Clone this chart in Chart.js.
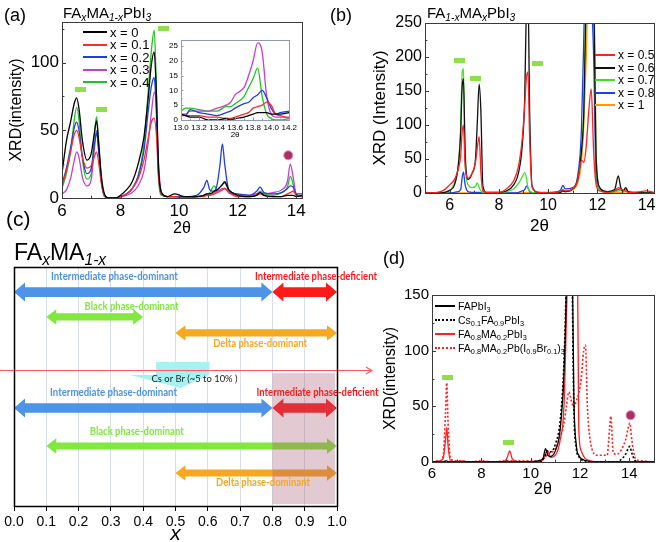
<!DOCTYPE html>
<html>
<head>
<meta charset="utf-8">
<script src="https://cdn.jsdelivr.net/npm/chart.js@4.4.1/dist/chart.umd.min.js"></script>
<style>
body { margin: 0; background: #fff; }
#fig { position: relative; width: 661px; height: 542px; overflow: hidden; font-family: "Liberation Sans", Arial, sans-serif; color: #000; background: #fff; }
#fig canvas { position: absolute; }
.lbl { position: absolute; line-height: 1; white-space: nowrap; }
.lbl sub { font-style: italic; font-size: 0.68em; vertical-align: -0.3em; line-height: 0; }
.leg { position: absolute; line-height: 1; }
.leg .row { display: flex; align-items: center; white-space: nowrap; }
.leg .ln { display: inline-block; margin-right: 3px; border-top-width: 2px; }
.leg sub { font-size: 0.7em; vertical-align: -0.3em; line-height: 0; }
</style>
</head>
<body>
<div id="fig">
  <canvas id="cA" width="330" height="240" style="left:0;top:0"></canvas>
  <canvas id="cIn" width="134" height="108" style="left:166px;top:32px"></canvas>
  <canvas id="cB" width="331" height="240" style="left:330px;top:0"></canvas>
  <canvas id="cC" width="400" height="310" style="left:0;top:240px"></canvas>
  <canvas id="cD" width="321" height="245" style="left:340px;top:260px"></canvas>

  <div class="lbl" style="left:4px;top:6px;font-size:18px">(a)</div>
  <div class="lbl" style="left:63px;top:5px;font-size:15px">FA<sub>x</sub>MA<sub>1-x</sub>PbI<sub>3</sub></div>
  <div class="lbl" style="left:330px;top:6px;font-size:18px">(b)</div>
  <div class="lbl" style="left:427px;top:5px;font-size:15px">FA<sub>1-x</sub>MA<sub>x</sub>PbI<sub>3</sub></div>
  <div class="lbl" style="left:6px;top:208px;font-size:21px">(c)</div>
  <div class="lbl" style="left:14px;top:241px;font-size:23px">FA<sub>x</sub>MA<sub>1-x</sub></div>
  <div class="lbl" style="left:383px;top:249px;font-size:18px">(d)</div>

  <div class="leg" id="legA" style="left:83px;top:26px;font-size:13px"></div>
  <div class="leg" id="legB" style="left:595px;top:49px;font-size:12px"></div>
  <div class="leg" id="legD" style="left:435px;top:299px;font-size:10.5px"></div>
</div>
<script>
// ---------- (a) FAxMA1-xPbI3, x = 0 ... 0.4 ----------
const thetaA = [6.0, 6.15, 6.3, 6.42, 6.5, 6.58, 6.7, 6.85, 7.0, 7.1, 7.18, 7.26, 7.35, 7.45, 7.6, 7.85, 8.0, 8.2, 8.4, 8.6,
    8.8, 8.95, 9.05, 9.15, 9.22, 9.3, 9.4, 9.6, 9.85, 10.2, 10.6, 10.85, 10.95, 11.05, 11.2, 11.3, 11.4, 11.48, 11.56, 11.7,
    12.0, 12.4, 12.65, 12.77, 12.9, 13.2, 13.5, 13.7, 13.8, 13.9, 14.0, 14.2];
const a_x0 = [18, 42, 57, 70, 74, 66, 42, 28, 33, 47, 57, 38, 15, 3, 0, 0, 2, 6, 12, 25, 45, 75, 98, 108, 80, 22, 4, 1, 3, 1,
    1, 2, 3, 3, 5, 6, 8, 10, 12, 6, 2, 1, 2, 4, 2, 1, 1, 2, 2, 2, 1, 2];
const a_x01 = [9, 20, 35, 47, 50, 45, 30, 22, 24, 30, 34, 25, 10, 2, 0, 0, 1, 3, 7, 14, 28, 45, 56, 59, 48, 15, 3, 1, 1, 0,
    1, 1, 2, 2, 3, 4, 5, 6, 7, 4, 1, 1, 2, 3, 2, 1, 1, 3, 4, 5, 2, 1];
const a_x02 = [10, 22, 38, 52, 56, 50, 30, 18, 22, 38, 48, 33, 12, 2, 0, 0, 1, 3, 7, 16, 35, 65, 82, 89, 65, 18, 3, 1, 1, 1,
    2, 8, 13, 6, 5, 10, 25, 40, 25, 6, 3, 2, 5, 8, 4, 3, 4, 7, 9, 8, 3, 3];
const a_x03 = [3, 6, 15, 28, 34, 30, 15, 9, 14, 35, 50, 35, 12, 2, 0, 0, 1, 2, 4, 9, 20, 42, 62, 78, 70, 25, 4, 1, 1, 0,
    1, 2, 3, 3, 4, 5, 6, 7, 7, 4, 2, 2, 3, 4, 3, 4, 6, 12, 25, 15, 3, 1];
const a_x04 = [7, 18, 35, 58, 67, 58, 28, 14, 18, 45, 60, 40, 12, 1, 0, 0, 1, 3, 7, 16, 40, 80, 108, 124, 85, 15, 2, 1, 1, 0,
    1, 2, 3, 4, 9, 6, 8, 10, 11, 5, 2, 1, 3, 5, 3, 2, 4, 8, 16, 10, 2, 1];
const ticksAx = [6, 8, 10, 12, 14];
const ticksAy = [0, 50, 100];
const barsA = [[6.64, 80], [7.35, 65.5], [9.46, 125]];
const dotsA = [[13.73, 31.5]];

// inset of (a)
const thetaIn = [13.0, 13.05, 13.1, 13.2, 13.3, 13.4, 13.5, 13.55, 13.6, 13.7, 13.75, 13.8, 13.85, 13.9, 13.95, 14.0, 14.05, 14.1, 14.2];
const in_x0 = [2, 1.5, 1, 1, 0, 0, 0.5, 0, 0.5, 1, 1.5, 2, 2.5, 2.5, 2.5, 2, 2, 2, 2.5];
const in_x01 = [1.5, 1.5, 1.5, 1.5, 1, 1, 0.5, 0.5, 1, 2, 2.5, 4, 4.5, 5, 6, 5, 2, 1.5, 0.5];
const in_x02 = [2, 1.5, 3.5, 2.5, 2, 1.5, 2.5, 3, 4, 5.5, 6, 7.5, 8.5, 10, 7.5, 4, 2, 2.5, 3];
const in_x03 = [2, 2, 3, 3, 3, 4, 5, 6, 8.5, 11, 15, 20, 26, 23, 8, 2, 1, 1, 1];
const in_x04 = [3, 4, 4, 3.5, 3, 3, 4.5, 4.5, 5.5, 8, 11, 14, 17.5, 8, 2, 0.5, 0, 0, 0.5];
const ticksInX = [13.0, 13.2, 13.4, 13.6, 13.8, 14.0, 14.2];
const ticksInY = [0, 5, 10, 15, 20, 25];

// ---------- (b) FA1-xMAxPbI3, x = 0.5 ... 1 ----------
const thetaB = [5.0, 5.5, 5.8, 6.0, 6.2, 6.35, 6.45, 6.5, 6.56, 6.63, 6.75, 6.9, 7.05, 7.12, 7.2, 7.27, 7.35, 7.5, 8.0, 8.3,
    8.6, 8.8, 8.95, 9.05, 9.12, 9.18, 9.25, 9.35, 9.6, 10.2, 10.5, 10.6, 10.7, 11.0, 11.2, 11.35, 11.45, 11.55, 11.65, 11.75,
    11.85, 11.95, 12.1, 12.4, 12.7, 12.85, 12.95, 13.05, 13.15, 13.25, 13.5, 14.0, 14.3];
const b_x05 = [0, 1, 5, 12, 20, 35, 55, 85, 100, 40, 22, 28, 45, 65, 83, 30, 3, 1, 1, 6, 18, 40, 80, 130, 170, 178, 80, 8, 1, 1,
    2, 5, 3, 6, 18, 48, 45, 70, 120, 153, 60, 12, 3, 1, 3, 8, 6, 4, 3, 1, 1, 3, 1];
const b_x06 = [0, 0, 1, 4, 12, 40, 90, 150, 168, 60, 20, 28, 50, 100, 160, 120, 10, 1, 1, 3, 12, 30, 70, 140, 280, 300, 120, 10, 1, 0,
    1, 3, 2, 6, 20, 60, 120, 300, 400, 400, 300, 50, 8, 2, 5, 25, 8, 3, 8, 2, 1, 0, 0];
const b_x07 = [0, 0, 1, 3, 15, 40, 100, 170, 183, 50, 12, 8, 10, 15, 8, 3, 1, 0, 0, 2, 6, 14, 24, 30, 22, 8, 3, 1, 0, 0,
    1, 4, 2, 6, 20, 60, 120, 300, 400, 400, 330, 40, 5, 1, 2, 3, 4, 4, 5, 2, 0, 0, 0];
const b_x08 = [1, 0, 0, 0, 1, 2, 5, 20, 31, 12, 2, 1, 1, 1, 1, 0, 0, 0, 0, 0, 0, 1, 3, 5, 10, 8, 2, 0, 0, 1,
    4, 11, 6, 8, 25, 90, 230, 400, 400, 300, 200, 25, 6, 2, 3, 5, 4, 3, 5, 1, 0, 0, 0];
const b_x1 = [0, 0, 0, 0, 0, 0, 0, 0, 0, 0, 0, 0, 0, 0, 0, 0, 0, 0, 0, 0, 0, 0, 0, 1, 1, 1, 0, 0, 0, 0,
    1, 3, 2, 5, 15, 45, 100, 200, 350, 400, 350, 60, 5, 1, 1, 1, 1, 1, 2, 1, 0, 0, 0];
const ticksBx = [6, 8, 10, 12, 14];
const ticksBy = [0, 50, 100, 150, 200, 250];
const barsB = [[6.41, 195], [7.05, 168], [9.57, 190]];

// ---------- (c) phase map vs x ----------
const ticksC = [0, 0.1, 0.2, 0.3, 0.4, 0.5, 0.6, 0.7, 0.8, 0.9, 1.0];
const arrowFrom = [0, 0.8, 0.1, 0.5, 0, 0.8, 0.1, 0.5];
const arrowTo = [0.8, 1.0, 0.4, 1.0, 0.8, 1.0, 1.0, 1.0];
const arrowPhase = ['Intermediate phase-dominant', 'Intermediate phase-deficient', 'Black phase-dominant', 'Delta phase-dominant',
    'Intermediate phase-dominant', 'Intermediate phase-deficient', 'Black phase-dominant', 'Delta phase-dominant'];
const additive = 'Cs or Br (~5 to 10% )';
const shadeRange = [0.8, 1.0];

// ---------- (d) ----------
const thetaD = [6.0, 6.3, 6.45, 6.55, 6.6, 6.65, 6.75, 7.0, 7.2, 7.5, 8.0, 8.5, 8.9, 9.05, 9.15, 9.25, 9.5, 10.0, 10.3, 10.5,
    10.6, 10.7, 10.8, 11.0, 11.2, 11.35, 11.45, 11.55, 11.65, 11.75, 11.85, 11.95, 12.05, 12.15, 12.22, 12.3, 12.45, 12.7, 12.9, 13.1,
    13.2, 13.25, 13.35, 13.5, 13.7, 13.85, 13.95, 14.02, 14.1, 14.25, 14.5, 15.0];
const d_fa = [0, 0, 0, 1, 1, 0, 0, 0, 0, 0, 0, 0, 0, 0, 0, 0, 0, 0, 1, 3, 12, 6, 5, 10, 30, 80, 160, 300, 250, 60,
    15, 6, 3, 2, 1, 1, 0, 0, 0, 0, 0, 0, 0, 0, 0, 0, 0, 0, 0, 0, 0, 0];
const d_cs = [0, 0, 0, 0, 0, 0, 0, 0, 0, 0, 0, 0, 0, 0, 0, 0, 0, 0, 0, 2, 6, 10, 9, 16, 38, 90, 170, 300, 220, 50,
    12, 5, 2, 1, 1, 0, 0, 0, 0, 0, 0, 0, 0, 0, 3, 7, 12, 14, 8, 1, 0, 0];
const d_ma = [0, 1, 3, 20, 31, 15, 1, 0, 1, 0, 0, 0, 0, 4, 10, 3, 0, 0, 0, 2, 8, 10, 4, 6, 20, 50, 130, 220, 300, 300,
    300, 30, 10, 5, 3, 2, 1, 0, 0, 0, 0, 0, 0, 0, 0, 0, 0, 0, 0, 0, 0, 0];
const d_br = [0, 1, 5, 45, 71, 35, 3, 1, 1, 0, 1, 0, 1, 1, 1, 1, 1, 1, 1, 3, 5, 7, 8, 12, 22, 35, 50, 63, 55, 49,
    55, 62, 75, 100, 105, 50, 15, 6, 6, 6, 30, 41, 8, 7, 12, 20, 30, 35, 20, 3, 1, 0];
const ticksDx = [6, 8, 10, 12, 14];
const ticksDy = [0, 50, 100, 150];
const barsD = [[6.63, 76], [9.12, 17.6]];
const dotsD = [[14.05, 42]];

const seriesA = ['x = 0', 'x = 0.1', 'x = 0.2', 'x = 0.3', 'x = 0.4'];
const colorsA = ['#000000', '#ff2b2b', '#1e3ee0', '#c43fd1', '#1ec41e'];
const seriesB = ['x = 0.5', 'x = 0.6', 'x = 0.7', 'x = 0.8', 'x = 1'];
const colorsB = ['#ff2020', '#111111', '#3fe02a', '#1e3ef0', '#ff9a00'];
const seriesD = ['FAPbI<sub>3</sub>', 'Cs<sub>0.1</sub>FA<sub>0.9</sub>PbI<sub>3</sub>', 'FA<sub>0.8</sub>MA<sub>0.2</sub>PbI<sub>3</sub>',
    'FA<sub>0.8</sub>MA<sub>0.2</sub>Pb(I<sub>0.9</sub>Br<sub>0.1</sub>)<sub>3</sub>'];

Chart.defaults.font.family = '"Liberation Sans", Arial, sans-serif';
Chart.defaults.color = '#000';
Chart.defaults.animation = false;

function pts(xs, ys) {
    return xs.map((x, i) => ({ x: x, y: ys[i] }));
}

function curve(label, xs, ys, color, dotted) {
    return {
        label: label,
        data: pts(xs, ys),
        borderColor: color,
        borderWidth: dotted ? 1.6 : 1.3,
        borderDash: dotted ? [2, 2] : [],
        pointRadius: 0,
        cubicInterpolationMode: 'monotone',
        fill: false,
    };
}

// little green bar used as the "black phase" marker
const greenBar = document.createElement('canvas');
greenBar.width = 11;
greenBar.height = 5;
greenBar.getContext('2d').fillStyle = '#8be04c';
greenBar.getContext('2d').fillRect(0, 0, 11, 5);

function markers(bars, dots) {
    return [
        { data: bars.map(p => ({ x: p[0], y: p[1] })), showLine: false, pointStyle: greenBar, pointRadius: 6, clip: false, order: -1 },
        { data: dots.map(p => ({ x: p[0], y: p[1] })), showLine: false, pointStyle: 'circle', pointRadius: 4.5,
          backgroundColor: '#b02e66', borderColor: '#d98aa5', borderWidth: 1, clip: false, order: -1 },
    ];
}

// box around the plot + inward tick marks
const framePlugin = {
    id: 'frame',
    beforeDraw(chart, args, o) {
        if (!o.fill) return;
        const a = chart.chartArea;
        chart.ctx.save();
        chart.ctx.fillStyle = o.fill;
        chart.ctx.fillRect(a.left, a.top, a.right - a.left, a.bottom - a.top);
        chart.ctx.restore();
    },
    afterDraw(chart, args, o) {
        const { ctx, chartArea: a, scales } = chart;
        ctx.save();
        ctx.strokeStyle = o.color || '#333';
        ctx.lineWidth = o.width || 1;
        ctx.strokeRect(Math.round(a.left) + 0.5, Math.round(a.top) + 0.5, Math.round(a.right - a.left), Math.round(a.bottom - a.top));
        if (o.tick) {
            ctx.beginPath();
            ['x', 'y'].forEach(k => {
                const s = scales[k];
                const step = o.minor[k];
                for (let v = Math.ceil(s.min / step - 1e-9) * step; v <= s.max + 1e-9; v += step) {
                    const major = s.ticks.some(t => Math.abs(t.value - v) < 1e-6);
                    const len = major ? o.tick : o.tick * 0.6;
                    const p = Math.round(s.getPixelForValue(v)) + 0.5;
                    if (k === 'x') { ctx.moveTo(p, a.bottom); ctx.lineTo(p, a.bottom - len); }
                    else { ctx.moveTo(a.left, p); ctx.lineTo(a.left + len, p); }
                }
            });
            ctx.stroke();
        }
        ctx.restore();
    }
};

function scales(o) {
    return {
        x: {
            type: 'linear', min: o.xmin, max: o.xmax,
            grid: { display: false, drawTicks: false }, border: { display: false },
            afterBuildTicks: s => { s.ticks = o.xt.map(v => ({ value: v })); },
            afterFit: s => { s.height = o.xh; },
            ticks: { font: { size: o.fs }, padding: 3, maxRotation: 0, autoSkip: false, callback: o.xfmt },
            title: { display: !!o.xtitle, text: o.xtitle, font: { size: o.tfs }, padding: { top: 0, bottom: o.xtp } },
        },
        y: {
            type: 'linear', min: 0, max: o.ymax,
            grid: { display: false, drawTicks: false }, border: { display: false },
            afterBuildTicks: s => { s.ticks = o.yt.map(v => ({ value: v })); },
            afterFit: s => { s.width = o.yw; },
            ticks: { font: { size: o.fs }, padding: 3, autoSkip: false },
            title: { display: !!o.ytitle, text: o.ytitle, font: { size: o.tfs }, padding: { top: o.ytp, bottom: 0 } },
        },
    };
}

const noLegend = { legend: { display: false }, tooltip: { enabled: false } };

// (a)
new Chart(document.getElementById('cA'), {
    type: 'line',
    data: {
        datasets: [
            curve(seriesA[0], thetaA, a_x0, colorsA[0]),
            curve(seriesA[1], thetaA, a_x01, colorsA[1]),
            curve(seriesA[2], thetaA, a_x02, colorsA[2]),
            curve(seriesA[3], thetaA, a_x03, colorsA[3]),
            curve(seriesA[4], thetaA, a_x04, colorsA[4]),
        ].concat(markers(barsA, dotsA))
    },
    options: {
        responsive: false,
        layout: { padding: { left: 2, top: 22, right: 28, bottom: 0 } },
        scales: scales({ xmin: 6, xmax: 14.2, xt: ticksAx, ymax: 130, yt: ticksAy, xh: 42, yw: 60, fs: 17, tfs: 16,
            xtitle: '2θ', ytitle: 'XRD(intensity)', xtp: 2, ytp: 5 }),
        plugins: Object.assign({ frame: { color: '#3a3a3a', tick: 4, minor: { x: 1, y: 25 } } }, noLegend),
    },
    plugins: [framePlugin]
});

// inset
new Chart(document.getElementById('cIn'), {
    type: 'line',
    data: {
        datasets: [
            curve(seriesA[0], thetaIn, in_x0, colorsA[0]),
            curve(seriesA[1], thetaIn, in_x01, colorsA[1]),
            curve(seriesA[2], thetaIn, in_x02, colorsA[2]),
            curve(seriesA[3], thetaIn, in_x03, colorsA[3]),
            curve(seriesA[4], thetaIn, in_x04, colorsA[4]),
        ]
    },
    options: {
        responsive: false,
        layout: { padding: { left: 0, top: 8, right: 7, bottom: 0 } },
        elements: { line: { cubicInterpolationMode: 'default', tension: 0 } },
        scales: scales({ xmin: 13.0, xmax: 14.2, xt: ticksInX, ymax: 27, yt: ticksInY, xh: 20, yw: 15, fs: 8, tfs: 8,
            xtitle: '2θ', xtp: 0, ytp: 0, xfmt: v => v.toFixed(1) }),
        plugins: Object.assign({ frame: { color: '#8c9bb0', fill: '#fff', tick: 2.5, minor: { x: 0.1, y: 2.5 } } }, noLegend),
    },
    plugins: [framePlugin]
});

// (b)
new Chart(document.getElementById('cB'), {
    type: 'line',
    data: {
        datasets: [
            curve(seriesB[0], thetaB, b_x05, colorsB[0]),
            curve(seriesB[1], thetaB, b_x06, colorsB[1]),
            curve(seriesB[2], thetaB, b_x07, colorsB[2]),
            curve(seriesB[3], thetaB, b_x08, colorsB[3]),
            curve(seriesB[4], thetaB, b_x1, colorsB[4]),
        ].concat(markers(barsB, []))
    },
    options: {
        responsive: false,
        layout: { padding: { left: 38, top: 23, right: 6, bottom: 0 } },
        scales: scales({ xmin: 5, xmax: 14.3, xt: ticksBx, ymax: 250, yt: ticksBy, xh: 47, yw: 57, fs: 16, tfs: 17,
            xtitle: '2θ', ytitle: 'XRD (Intensity)', xtp: 3, ytp: 2 }),
        plugins: Object.assign({ frame: { color: '#3a3a3a', tick: 4, minor: { x: 1, y: 25 } } }, noLegend),
    },
    plugins: [framePlugin]
});

// (c)
const phaseColor = {
    'Intermediate phase-dominant': '#4d93e8',
    'Intermediate phase-deficient': '#ff1a1a',
    'Black phase-dominant': '#80e83f',
    'Delta phase-dominant': '#f6a81e',
};
// vertical levels (in the hidden 0-100 axis) of the arrows and of their captions
const arrowRow = [89.5, 89.5, 79.1, 72.4, 41, 41, 25.1, 13.8];
const captionX = [0.311, 0.746, 0.364, 0.762, 0.308, 0.751, 0.38, 0.771];
const captionRow = [95.8, 95.8, 83.3, 67.8, 47.3, 47.3, 31, 9.6];

function drawArrow(ctx, x1, x2, y, head, half, shaft) {
    ctx.beginPath();
    ctx.moveTo(x1, y);
    ctx.lineTo(x1 + head, y - half);
    ctx.lineTo(x1 + head, y - shaft);
    ctx.lineTo(x2 - head, y - shaft);
    ctx.lineTo(x2 - head, y - half);
    ctx.lineTo(x2, y);
    ctx.lineTo(x2 - head, y + half);
    ctx.lineTo(x2 - head, y + shaft);
    ctx.lineTo(x1 + head, y + shaft);
    ctx.lineTo(x1 + head, y + half);
    ctx.closePath();
    ctx.fill();
}

const phasePlugin = {
    id: 'phases',
    afterDatasetsDraw(chart) {
        const { ctx } = chart;
        const x = chart.scales.x, y = chart.scales.y;
        ctx.save();
        chart.data.datasets.forEach((ds, i) => {
            const m = chart.getDatasetMeta(i);
            const p0 = m.data[0], p1 = m.data[1];
            ctx.fillStyle = ds.arrowColor;
            if (ds.big) drawArrow(ctx, p0.x, p1.x, p0.y, 11, 9.5, 4.8);
            else drawArrow(ctx, p0.x, p1.x, p0.y, 10, 7.7, 3.6);
        });

        // shaded (additive) region
        ctx.fillStyle = 'rgba(170, 90, 115, 0.33)';
        const sx0 = x.getPixelForValue(shadeRange[0]), sx1 = x.getPixelForValue(shadeRange[1]);
        const sy0 = y.getPixelForValue(55.6), sy1 = y.getPixelForValue(0.8);
        ctx.fillRect(sx0, sy0, sx1 - sx0 - 2, sy1 - sy0);

        // cyan block arrow
        ctx.fillStyle = '#a6f2f2';
        ctx.fillRect(x.getPixelForValue(0.44), y.getPixelForValue(60.3),
            x.getPixelForValue(0.605) - x.getPixelForValue(0.44), y.getPixelForValue(54.8) - y.getPixelForValue(60.3));
        ctx.beginPath();
        ctx.moveTo(x.getPixelForValue(0.36), y.getPixelForValue(54.8));
        ctx.lineTo(x.getPixelForValue(0.605), y.getPixelForValue(54.8));
        ctx.lineTo(x.getPixelForValue(0.515), y.getPixelForValue(49.4));
        ctx.closePath();
        ctx.fill();

        // red guide line into panel (d)
        const ly = Math.round(y.getPixelForValue(56.9)) + 0.5;
        const lx0 = x.getPixelForValue(-0.05), lx1 = x.getPixelForValue(1.108);
        ctx.strokeStyle = '#ff5a5a';
        ctx.lineWidth = 1.2;
        ctx.beginPath();
        ctx.moveTo(lx0, ly);
        ctx.lineTo(lx1, ly);
        ctx.moveTo(lx1 - 6, ly - 3.5);
        ctx.lineTo(lx1, ly);
        ctx.lineTo(lx1 - 6, ly + 3.5);
        ctx.stroke();

        // captions
        ctx.textBaseline = 'middle';
        ctx.font = 'bold 10.5px Lato, "Open Sans", sans-serif';
        arrowPhase.forEach((t, i) => {
            ctx.fillStyle = phaseColor[t];
            const deficient = t.indexOf('deficient') > 0;
            ctx.textAlign = deficient ? 'left' : 'center';
            const w = deficient ? 122 : (t.indexOf('Intermediate') === 0 ? 127 : 94);
            ctx.fillText(t, x.getPixelForValue(captionX[i]), y.getPixelForValue(captionRow[i]), w);
        });
        ctx.fillStyle = '#222';
        ctx.textAlign = 'center';
        ctx.font = '10px Lato, "Open Sans", sans-serif';
        ctx.fillText(additive, x.getPixelForValue(0.559), y.getPixelForValue(53.1), 86);
        ctx.restore();
    }
};

new Chart(document.getElementById('cC'), {
    type: 'line',
    data: {
        datasets: arrowPhase.map((t, i) => ({
            label: t,
            data: [{ x: arrowFrom[i], y: arrowRow[i] }, { x: arrowTo[i], y: arrowRow[i] }],
            showLine: false, pointRadius: 0,
            arrowColor: phaseColor[t],
            big: t.indexOf('Intermediate') === 0,
        }))
    },
    options: {
        responsive: false,
        layout: { padding: { left: 14, top: 27, right: 63, bottom: 0 } },
        scales: {
            x: {
                type: 'linear', min: 0, max: 1,
                grid: { color: '#d9dfe8', drawTicks: true, tickLength: 5, tickColor: '#000' },
                border: { display: false },
                afterBuildTicks: s => { s.ticks = ticksC.map(v => ({ value: v })); },
                afterFit: s => { s.height = 44; },
                ticks: { font: { size: 14 }, padding: 3, maxRotation: 0, autoSkip: false, callback: v => v.toFixed(1) },
                title: { display: true, text: 'x', font: { size: 21, style: 'italic' }, padding: { top: 0, bottom: 3 } },
            },
            y: { display: false, min: 0, max: 100 },
        },
        plugins: Object.assign({ frame: { color: '#000', width: 1.5 } }, noLegend),
    },
    plugins: [phasePlugin, framePlugin]
});

// (d)
new Chart(document.getElementById('cD'), {
    type: 'line',
    data: {
        datasets: [
            curve('FAPbI3', thetaD, d_fa, '#000000'),
            curve('Cs0.1FA0.9PbI3', thetaD, d_cs, '#000000', true),
            curve('FA0.8MA0.2PbI3', thetaD, d_ma, '#ff2020'),
            curve('FA0.8MA0.2Pb(I0.9Br0.1)3', thetaD, d_br, '#ff2020', true),
        ].concat(markers(barsD, dotsD))
    },
    options: {
        responsive: false,
        layout: { padding: { left: 40, top: 35, right: 4, bottom: 0 } },
        scales: scales({ xmin: 6, xmax: 15, xt: ticksDx, ymax: 150, yt: ticksDy, xh: 43, yw: 52, fs: 15, tfs: 16,
            xtitle: '2θ', ytitle: 'XRD(intensity)', xtp: 6, ytp: 1 }),
        plugins: Object.assign({ frame: { color: '#3a3a3a', tick: 4, minor: { x: 1, y: 25 } } }, noLegend),
    },
    plugins: [framePlugin]
});

// legends (html so subscripts stay real text)
function legend(id, names, colors, dotted, lineW, rowH) {
    const el = document.getElementById(id);
    names.forEach((n, i) => {
        const row = document.createElement('div');
        row.className = 'row';
        row.style.height = rowH + 'px';
        row.innerHTML = '<span class="ln" style="width:' + lineW + 'px;border-top-style:' + (dotted[i] ? 'dotted' : 'solid') +
            ';border-top-color:' + colors[i] + '"></span><span>' + n + '</span>';
        el.appendChild(row);
    });
}
legend('legA', seriesA, colorsA, [0, 0, 0, 0, 0], 24, 12.5);
legend('legB', seriesB, colorsB, [0, 0, 0, 0, 0], 20, 12.5);
legend('legD', seriesD, ['#000', '#000', '#ff2020', '#ff2020'], [0, 1, 0, 1], 20, 14);
</script>
</body>
</html>
